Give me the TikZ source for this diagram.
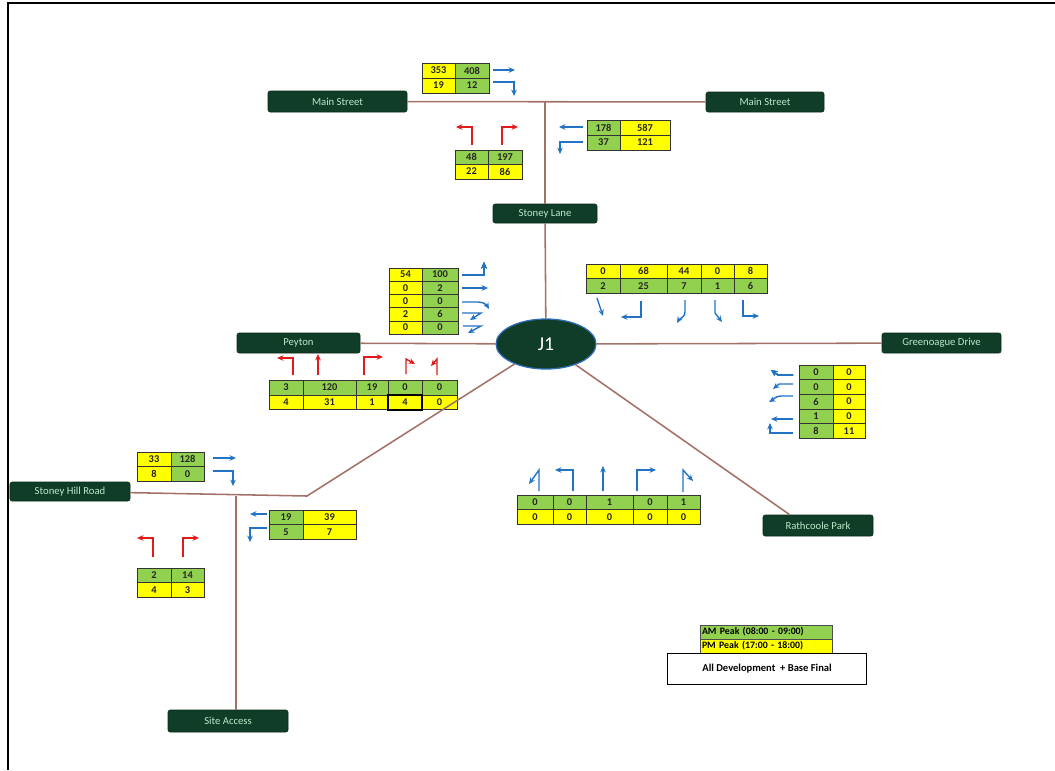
\documentclass[tikz,border=0pt]{standalone}
\usepackage{fontspec}
\setmainfont{Carlito}
\usetikzlibrary{arrows.meta,shapes.geometric,positioning}

\definecolor{amgreen}{HTML}{92D050}
\definecolor{pmyellow}{HTML}{FFFF00}
\definecolor{roadfill}{HTML}{0F3D27}
\definecolor{roadtext}{HTML}{BDE8CB}
\definecolor{roadline}{HTML}{A27268}
\definecolor{flowblue}{HTML}{2373C4}
\definecolor{flowred}{HTML}{E01B1B}
\definecolor{ringblue}{HTML}{2F6DB5}

\newcommand{\cellfont}{\fontsize{7.4}{8}\selectfont\bfseries}
% one row of a count table: y, row height, list of x/width/fill/value
\newcommand{\cellrow}[3]{%
  \foreach \cx/\cw/\cfill/\cval in {#3}
    \node[cell_box, fill=\cfill, minimum width=\cw*0.25mm, minimum height=#2*0.25mm] at (\cx,#1) {\cval};%
}

\begin{document}
\begin{tikzpicture}[
    x=0.25mm, y=-0.25mm,
    road_name/.style={rectangle, rounded corners=1.5pt, draw=roadfill!70!black, fill=roadfill, text=roadtext, font=\fontsize{7.6}{8}\selectfont, inner sep=0pt},
    road_line/.style={draw=roadline, line width=1.1pt},
    junction/.style={ellipse, draw=ringblue, line width=0.9pt, fill=roadfill, text=white, font=\fontsize{14}{16}\selectfont, minimum width=25mm, minimum height=12.5mm, inner sep=0pt},
    cell_box/.style={rectangle, draw=black!80, line width=0.4pt, anchor=north west, inner sep=0pt, outer sep=0pt, font=\cellfont, text=black!85},
    flow_blue/.style={draw=flowblue, line width=1pt, -{Stealth[length=1.6mm,width=1.4mm]}},
    flow_red/.style={draw=flowred, line width=1pt, -{Stealth[length=1.6mm,width=1.4mm]}},
    key_bar/.style={rectangle, draw=black!70, line width=0.4pt, text width=32mm, inner xsep=0.5mm, inner ysep=0pt, minimum height=3.5mm, outer sep=0pt, align=left, font=\fontsize{7}{8}\selectfont\bfseries}
]
    \useasboundingbox (0,0) rectangle (1055,770);
    \draw[line width=1pt] (8,770) -- (8,3) -- (1055,3);

    % road names
    \node[road_name, minimum width=34.75mm, minimum height=5.25mm] (mainW) at (337.5,101.5) {Main Street};
    \node[road_name, minimum width=29.5mm, minimum height=5mm] (mainE) at (765,102) {Main Street};
    \node[road_name, minimum width=26mm, minimum height=4.75mm] (stoneyLane) at (545,213.5) {Stoney Lane};
    \node[road_name, minimum width=30.75mm, minimum height=5mm] (peyton) at (298.5,343) {Peyton};
    \node[road_name, minimum width=29.75mm, minimum height=5mm] (greenoague) at (941.5,343) {Greenoague Drive};
    \node[road_name, minimum width=27.5mm, minimum height=5.25mm] (rathcoole) at (818,525.5) {Rathcoole Park};
    \node[road_name, minimum width=30mm, minimum height=4.75mm] (stoneyHill) at (70,491.5) {Stoney Hill Road};
    \node[road_name, minimum width=30mm, minimum height=5.5mm] (siteAccess) at (228,721) {Site Access};
    \node[junction] (j1) at (546,344) {J1};

    % Main Street (west) approach
    \cellrow{63}{15}{422/33/pmyellow/353, 455/34/amgreen/408}
    \cellrow{78}{15}{422/33/pmyellow/19, 455/34/amgreen/12}
    \draw[flow_blue] (493,70) -- (515,70);
    \draw[flow_blue] (493,82) -- (514,82) -- (514,96);

    % Stoney Lane northbound
    \cellrow{150}{14}{455/33/amgreen/48, 488/34/amgreen/197}
    \cellrow{164}{15}{455/33/pmyellow/22, 488/34/pmyellow/86}
    \draw[flow_red] (472,145) -- (472,127) -- (456,127);
    \draw[flow_red] (502,145) -- (502,127) -- (518,127);

    % Main Street (east) approach
    \cellrow{120}{15}{587/33/amgreen/178, 620/50/pmyellow/587}
    \cellrow{135}{15}{587/33/amgreen/37, 620/50/pmyellow/121}
    \draw[flow_blue] (583,127) -- (559,127);
    \draw[flow_blue] (583,142) -- (560,142) -- (560,154);

    % Peyton eastbound
    \foreach \valA/\valB [count=\i from 0] in {54/100, 0/2, 0/0, 2/6, 0/0}
        \cellrow{268+13.2*\i}{13.2}{389/33/pmyellow/\valA, 422/36/amgreen/\valB}
    \draw[flow_blue] (462,275) -- (484,275) -- (484,262);
    \draw[flow_blue] (462,288) -- (488,288);
    \draw[flow_blue] (462,302) -- (478,302) to[out=0,in=120] (489,309);
    \draw[flow_blue] (462,313) -- (481,313) -- (470,320);
    \draw[flow_blue] (463,326) -- (481,326) -- (468,333);

    % Stoney Lane southbound
    \cellrow{264}{14.5}{586/34/pmyellow/0, 620/47/pmyellow/68, 667/34/pmyellow/44, 701/33/pmyellow/0, 734/33/pmyellow/8}
    \cellrow{278.5}{14.5}{586/34/amgreen/2, 620/47/amgreen/25, 667/34/amgreen/7, 701/33/amgreen/1, 734/33/amgreen/6}
    \draw[flow_blue] (597,298) -- (603,316);
    \draw[flow_blue] (641,301) -- (641,317) -- (621,317);
    \draw[flow_blue] (685,300) -- (685,312) to[out=-90,in=60] (677,323);
    \draw[flow_blue] (715,300) -- (715,313) -- (722,322);
    \draw[flow_blue] (743,300) -- (743,316) -- (759,316);

    % Peyton exit from J1
    \cellrow{380}{15}{269/34/amgreen/3, 303/53/amgreen/120, 356/32/amgreen/19, 388/34/amgreen/0, 422/35/amgreen/0}
    \cellrow{395}{14}{269/34/pmyellow/4, 303/53/pmyellow/31, 356/32/pmyellow/1, 388/34/pmyellow/4, 422/35/pmyellow/0}
    \draw[line width=1pt] (388,395) rectangle (422,410);
    \draw[flow_red] (293,375) -- (293,358) -- (277,358);
    \draw[flow_red] (318,375) -- (318,354);
    \draw[flow_red] (364,375) -- (364,357) -- (383,357);
    \draw[flow_red] (406,374) -- (406,359) -- (415,364);
    \draw[flow_red] (437,375) -- (437,359) -- (431,366);

    % Greenoague Drive westbound
    \foreach \valA/\valB [count=\i from 0] in {0/0, 0/0, 6/0, 1/0, 8/11}
        \cellrow{365+14.6*\i}{14.6}{799/34/amgreen/\valA, 833/32/pmyellow/\valB}
    \draw[flow_blue] (793,375) -- (778,375) -- (771,370);
    \draw[flow_blue] (793,384) -- (779,384) -- (773,389);
    \draw[flow_blue] (793,396) -- (781,396) to[out=180,in=30] (769,402);
    \draw[flow_blue] (793,419) -- (771,419);
    \draw[flow_blue] (793,433) -- (770,433) -- (770,423);

    % Rathcoole Park northbound
    \cellrow{495}{14.5}{517/36/amgreen/0, 553/33/amgreen/0, 586/47/amgreen/1, 633/34/amgreen/0, 667/33/amgreen/1}
    \cellrow{509.5}{14.5}{517/36/pmyellow/0, 553/33/pmyellow/0, 586/47/pmyellow/0, 633/34/pmyellow/0, 667/33/pmyellow/0}
    \draw[flow_blue] (539,491) -- (539,470) -- (529,484);
    \draw[flow_blue] (573,491) -- (573,470) -- (555,470);
    \draw[flow_blue] (603,491) -- (603,466);
    \draw[flow_blue] (637,491) -- (637,470) -- (656,470);
    \draw[flow_blue] (683,492) -- (683,470) -- (693,481);

    % Stoney Hill Road eastbound
    \cellrow{452}{14.5}{137/34/pmyellow/33, 171/33/amgreen/128}
    \cellrow{466.5}{14.5}{137/34/pmyellow/8, 171/33/amgreen/0}
    \draw[flow_blue] (213,458) -- (236,458);
    \draw[flow_blue] (213,471) -- (233,471) -- (233,486);

    % Stoney Hill Road westbound
    \cellrow{510}{14.5}{269/34/amgreen/19, 303/53/pmyellow/39}
    \cellrow{524.5}{14.5}{269/34/amgreen/5, 303/53/pmyellow/7}
    \draw[flow_blue] (267,514) -- (250,514);
    \draw[flow_blue] (267,528) -- (250,528) -- (250,542);

    % Site Access northbound
    \cellrow{568}{14.5}{137/34/amgreen/2, 171/33/amgreen/14}
    \cellrow{582.5}{14.5}{137/34/pmyellow/4, 171/33/pmyellow/3}
    \draw[flow_red] (153,557) -- (153,538) -- (137,538);
    \draw[flow_red] (183,557) -- (183,538) -- (199,538);

    % roads
    \coordinate (mainT) at (545,102);
    \coordinate (shrBend) at (307,496);
    \coordinate (siteT) at (236,496);
    \draw[road_line] (mainW) -- (mainE);
    \draw[road_line] (mainT) -- (stoneyLane);
    \draw[road_line] (stoneyLane) -- (j1);
    \draw[road_line] (peyton) -- (j1);
    \draw[road_line] (j1) -- (greenoague);
    \draw[road_line] (j1) -- ([xshift=6.75mm]rathcoole.north west);
    \draw[road_line] (j1) -- (shrBend) -- (stoneyHill);
    \draw[road_line] (siteT) -- (siteT |- siteAccess.north);

    % key
    \node[key_bar, fill=amgreen, anchor=north west] (amKey) at (700,625) {AM Peak (08:00 - 09:00)};
    \node[key_bar, fill=pmyellow, below=0pt of amKey] (pmKey) {PM Peak (17:00 - 18:00)};
    \node[rectangle, draw, line width=0.8pt, minimum width=49.75mm, minimum height=7.75mm, anchor=north west, font=\fontsize{7.5}{8}\selectfont\bfseries] (scenario) at (667,653) {All Development~ + Base Final};
\end{tikzpicture}
\end{document}
